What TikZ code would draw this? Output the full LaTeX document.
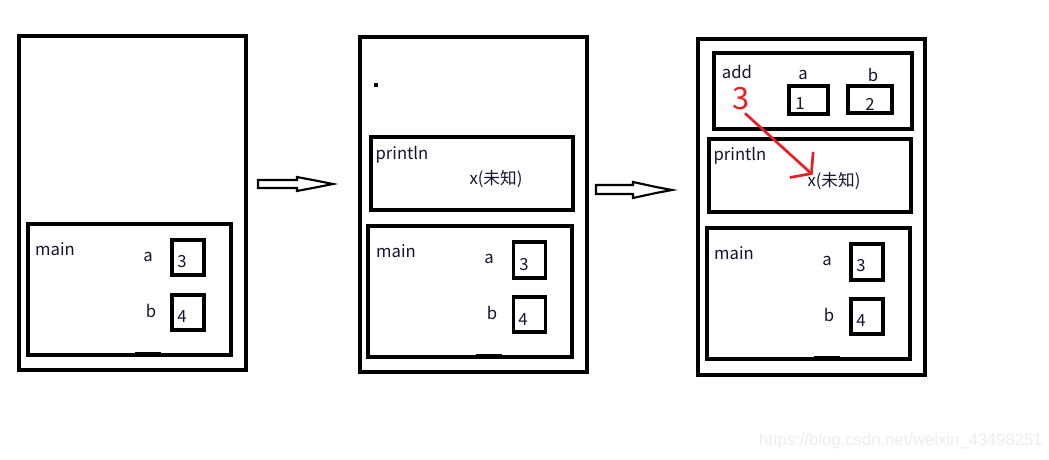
\documentclass[tikz,border=0pt]{standalone}
\usepackage{fontspec}
\setmainfont{Noto Sans CJK SC}
\usetikzlibrary{positioning, arrows.meta}
\definecolor{ink}{RGB}{20,20,50}
\definecolor{paintred}{RGB}{237,28,36}
\tikzset{
    frame/.style = {rectangle, draw, line width=2.3pt, inner sep=0pt},
    cell/.style = {rectangle, draw, line width=2.3pt, inner sep=0pt,
                        minimum width=24pt, minimum height=26.25pt},
    label/.style = {inner sep=0pt, text=ink, font=\fontsize{12.5}{14}\selectfont},
    hollow/.style = {draw, line width=1.6pt, fill=white, line join=miter}
}

\begin{document}
\begin{tikzpicture}[x=0.75pt, y=-0.75pt]
			\useasboundingbox (0,0) rectangle (1049,460);
			% first stage: only main
			\node (p1) [frame, minimum width=170.25pt, minimum height=250.5pt] at (132.5,203) {};
			\node (p1main) [frame, minimum width=152.25pt, minimum height=98.25pt] at (129.5,289.5) {};
			\fill (135,352.2) rectangle (161,355);
			\node (p1mainlbl) [label] at (55,249) {main};
			\node (p1alab) [label] at (148,257) {a};
			\node (p1blab) [label] at (151,311) {b};
			\node (p1a) [cell] at (188,257.5) {};
			\node (p1b) [cell] at (188,312.5) {};
			\node (p1aval) [label] at (182,262) {3};
			\node (p1bval) [label] at (182,317) {4};
			% first hollow arrow
			\draw [hollow] (258,180) -- (297,180) -- (297,177) -- (318,181) -- (333,184)
				-- (318,187) -- (297,191) -- (297,188) -- (258,188) -- cycle;
			% second stage: println on top of main
			\node (p2) [frame, minimum width=170.25pt, minimum height=251.25pt] at (473.5,204.5) {};
			\fill (374,83) rectangle (378,87);
			\node (p2print) [frame, minimum width=151.5pt, minimum height=54.75pt] at (472,173.5) {};
			\node (p2printlbl) [label] at (402,155) {println};
			\node (p2x) [label] at (496,179) {x(未知)};
			\node (p2main) [frame, minimum width=153pt, minimum height=98.25pt] at (470,291.5) {};
			\fill (476,354.2) rectangle (502,357);
			\node (p2mainlbl) [label] at (396,251) {main};
			\node (p2alab) [label] at (489,259) {a};
			\node (p2blab) [label] at (492,313) {b};
			\node (p2a) [cell, minimum height=27pt] at (529.5,260) {};
			\node (p2b) [cell] at (529.5,314.5) {};
			\node (p2aval) [label] at (524,265) {3};
			\node (p2bval) [label] at (523,320) {4};
			% second hollow arrow
			\draw [hollow] (596,185) -- (633,185) -- (633,182) -- (656,187) -- (672,190)
				-- (656,193) -- (633,198) -- (633,194) -- (596,194) -- cycle;
			% third stage: add on top of println
			\node (p3) [frame, minimum width=170.25pt, minimum height=252pt] at (811.5,207) {};
			\node (p3add) [frame, minimum width=148.5pt, minimum height=57pt] at (813,91) {};
			\fill (712.5,85) rectangle (716,89);
			\node (p3addlbl) [label] at (737,72) {add};
			\node (p3alab) [label] at (803,75) {a};
			\node (p3blab) [label] at (873,75) {b};
			\node (p3a) [cell, minimum width=29.25pt, minimum height=21pt] at (808.5,100) {};
			\node (p3b) [cell, minimum width=33pt, minimum height=20.25pt] at (870,99.5) {};
			\node (p3aval) [label] at (800,104) {1};
			\node (p3bval) [label] at (870,104) {2};
			\node (ret) [label, text=paintred, font=\fontsize{23}{25}\selectfont] at (741,99) {3};
			\node (p3print) [frame, minimum width=151.5pt, minimum height=54.75pt] at (810,175.5) {};
			\node (p3printlbl) [label] at (740,156) {println};
			\node (p3x) [label] at (834,181) {x(未知)};
			\node (p3main) [frame, minimum width=152.25pt, minimum height=98.25pt] at (808.5,293.5) {};
			\fill (814,356.2) rectangle (840,359);
			\node (p3mainlbl) [label] at (734,253) {main};
			\node (p3alab) [label] at (827,261) {a};
			\node (p3blab) [label] at (829,315) {b};
			\node (p3av) [cell, minimum height=27pt] at (867,262) {};
			\node (p3bv) [cell] at (867,316.5) {};
			\node (p3avval) [label] at (861,266) {3};
			\node (p3bvval) [label] at (861,321) {4};
			% return value goes to x
			\draw [paintred, line width=2pt, -{Straight Barb[length=10pt, width=26pt, line width=2pt]}]
				([xshift=3pt, yshift=-2pt]ret.south) -- ([xshift=4pt, yshift=-2pt]p3x.north west);
			% watermark
			\node (mark) [inner sep=0pt, text=black!7, font=\fontspec{Liberation Sans}\fontsize{12.5}{14}\selectfont, anchor=east] at (1043,441) {https://blog.csdn.net/weixin\_43498251};
		\end{tikzpicture}
\end{document}
